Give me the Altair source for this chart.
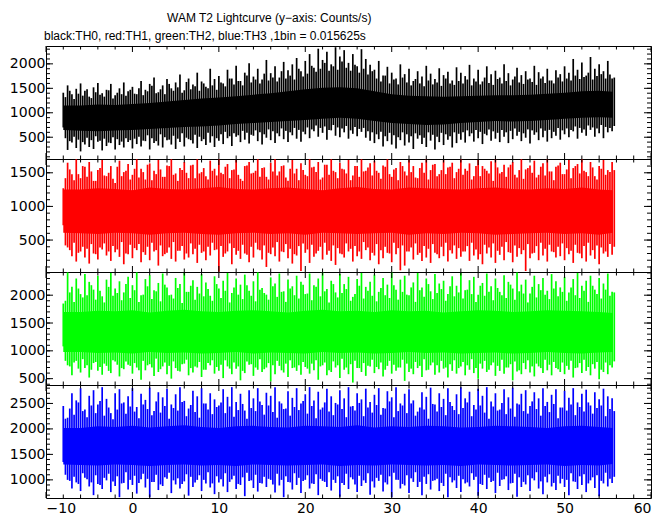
import altair as alt
import pandas as pd

TITLE = "WAM T2 Lightcurve (y−axis: Counts/s)"
SUBTITLE = "black:TH0, red:TH1, green:TH2, blue:TH3 ,1bin = 0.015625s"

X_DOMAIN = [-10, 60]
X_MAJOR = [-10, 0, 10, 20, 30, 40, 50, 60]
X_MINOR = [v for v in range(-10, 61, 2) if v % 10 != 0]

# sample times (s): set A at -8, -7.5, ...; set B at -7.75, -7.25, ...
T_A = [-8 + 0.5 * i for i in range(128)]
T_B = [-7.75 + 0.5 * i for i in range(128)]
CORE_T = [-8, -6, -4, -2, 0, 2, 4, 6, 8, 10, 12, 14, 16, 18, 20, 22, 24, 26,
          28, 30, 32, 34, 36, 38, 40, 42, 44, 46, 48, 50, 52, 54, 55.6]

# ---------------- TH0 (black) ----------------
th0_hi = [1410, 1560, 1380, 1490, 1600, 1450, 1330, 1520, 1610, 1400, 1470, 1590, 1360, 1500, 1620, 1440,
          1530, 1380, 1650, 1470, 1590, 1720, 1420, 1560, 1690, 1500, 1620, 1780, 1460, 1700, 1580, 1820, 1640, 1530, 1900, 1690,
          1750, 1600, 1880, 1700, 1960, 1650, 1820, 2010, 1740, 1900, 1680, 2080, 1810, 1950, 1720, 2040, 1870, 1990, 2120, 1850,
          2060, 2200, 1920, 2310, 2080, 2250, 1990, 2340, 2150, 2280, 2020, 2200, 1950, 2300, 2100, 1980,
          1880, 2060, 1760, 1940, 1820, 1700, 1990, 1790, 1900, 1650, 1850, 1740, 1960, 1800, 1690, 1910, 1770, 1840, 1660, 1930,
          1820, 1750, 1980, 1700, 1880, 1640, 1950, 1790, 1860, 1720, 1990, 1810, 1680, 1920, 1770, 1850, 1700, 1960, 1830, 1740, 1900, 1660, 1870, 1790,
          1950, 1820, 2100, 1880, 2030, 1760, 2140, 1900, 1990, 1850, 2060, 1700]
th0_lo = [700, 240, 390, 280, 210, 350, 300, 260, 410, 230, 320, 380, 250, 340, 290, 400,
          270, 360, 310, 420, 250, 380, 330, 290, 440, 350, 260, 400, 310, 460, 370, 280, 420, 340, 390, 300,
          430, 360, 480, 320, 510, 400, 450, 370, 530, 420, 350, 490, 440, 380, 520, 460, 400, 540, 470, 410,
          560, 480, 620, 510, 590, 450, 640, 530, 500, 600, 470, 570, 520, 610, 490, 430,
          380, 460, 310, 420, 350, 270, 440, 330, 390, 260, 470, 360, 300, 430, 250, 400, 340, 450, 290, 380,
          450, 390, 520, 410, 480, 360, 540, 430, 470, 400, 510, 380, 460, 530, 420, 490, 370, 550, 440, 500, 410, 480, 530, 450,
          560, 500, 620, 470, 590, 530, 650, 510, 580, 480, 600, 620]
th0_hi_b = [1320, 1450, 1280, 1390, 1350, 1480, 1300, 1420, 1370, 1330, 1460, 1290, 1410, 1380, 1350, 1470,
            1390, 1500, 1360, 1440, 1550, 1400, 1480, 1380, 1590, 1450, 1520, 1410, 1630, 1480, 1540, 1450, 1600, 1500, 1560, 1470,
            1620, 1540, 1700, 1580, 1650, 1560, 1760, 1620, 1680, 1600, 1800, 1660, 1720, 1640, 1850, 1700, 1760, 1680, 1900, 1740,
            1800, 1960, 1840, 1900, 2020, 1860, 1950, 1880, 2050, 1920, 1860, 1980, 1820, 1900, 1780, 1850,
            1700, 1640, 1760, 1600, 1680, 1580, 1720, 1620, 1560, 1690, 1600, 1540, 1660, 1580, 1620, 1550, 1700, 1600, 1570, 1650,
            1600, 1680, 1560, 1640, 1580, 1720, 1610, 1570, 1690, 1600, 1650, 1560, 1740, 1620, 1590, 1680, 1630, 1570, 1700, 1610, 1660, 1600, 1720, 1640,
            1700, 1660, 1760, 1690, 1730, 1820, 1680, 1750, 1790, 1700, 1780, 1720]
th0_lo_b = [480, 420, 510, 450, 400, 490, 440, 520, 430, 470, 390, 500, 460, 410, 480, 440,
            470, 510, 430, 540, 480, 420, 560, 500, 450, 530, 470, 580, 490, 440, 550, 510, 460, 590, 520, 480,
            560, 610, 520, 580, 540, 630, 590, 550, 640, 600, 560, 660, 620, 580, 680, 630, 600, 690, 650, 610,
            700, 660, 740, 690, 720, 650, 750, 700, 680, 730, 640, 710, 670, 690, 620, 600,
            560, 610, 520, 590, 540, 500, 600, 560, 520, 580, 540, 490, 600, 550, 510, 590, 560, 520, 600, 570,
            600, 640, 580, 650, 610, 570, 660, 620, 590, 650, 600, 630, 680, 610, 580, 660, 640, 600, 680, 630, 650, 610, 690, 640,
            680, 650, 720, 690, 660, 740, 700, 680, 750, 710, 690, 730]
th0_core_hi = [1150, 1150, 1170, 1160, 1180, 1200, 1230, 1260, 1290, 1310, 1340, 1370, 1400, 1440, 1480, 1510, 1520,
               1500, 1440, 1380, 1350, 1340, 1330, 1340, 1350, 1360, 1360, 1370, 1390, 1410, 1440, 1450, 1430]
th0_core_lo = [650, 630, 620, 640, 650, 670, 690, 710, 720, 740, 770, 790, 810, 830, 850, 880, 900,
               880, 830, 790, 770, 750, 760, 790, 810, 830, 820, 830, 850, 880, 900, 910, 900]

# ---------------- TH1 (red) ----------------
th1_hi = [1270, 1650, 1480, 1700, 1420, 1590, 1660, 1380, 1540, 1690, 1450, 1600, 1350, 1680, 1510, 1630,
          1470, 1700, 1560, 1400, 1640, 1530, 1690, 1440, 1610, 1700, 1490, 1570, 1660, 1420, 1620, 1700, 1510, 1450, 1680, 1560,
          1700, 1480, 1630, 1540, 1690, 1410, 1600, 1660, 1500, 1700, 1570, 1440, 1650, 1700, 1520, 1610, 1380, 1690, 1560, 1640,
          1470, 1700, 1590, 1660, 1430, 1620, 1700, 1510, 1650, 1550, 1690, 1460, 1600, 1700, 1530, 1640,
          1680, 1500, 1610, 1700, 1440, 1570, 1660, 1520, 1690, 1600, 1420, 1650, 1700, 1540, 1630, 1480, 1690, 1580, 1650, 1510,
          1700, 1560, 1640, 1450, 1690, 1600, 1530, 1670, 1700, 1490, 1620, 1580, 1660, 1430, 1700, 1550, 1610, 1680, 1470, 1640, 1700, 1520, 1590, 1650,
          1480, 1690, 1570, 1630, 1700, 1510, 1660, 1450, 1600, 1690, 1540, 1660]
th1_lo = [720, 390, 260, 180, 330, 240, 150, 300, 210, 360, 270, 190, 320, 250, 140, 290,
          230, 350, 170, 280, 200, 330, 120, 260, 310, 220, 180, 340, 210, 240, 290, 160, 310, 200, 270, 350,
          30, 250, 330, 140, 280, 220, 300, 170, 240, 360, 210, 100, 290, 260, 180, 320, 230, 150, 270, 40,
          310, 160, 250, 340, 210, 280, 190, 130, 300, 240, 330, 180, 260, 220, 350, 200,
          270, 140, 230, 310, 170, 290, 50, 120, 330, 210, 280, 190, 240, 160, 310, 230, 260, 180, 300, 220,
          250, 330, 190, 270, 210, 140, 300, 240, 160, 280, 200, 320, 170, 250, 290, 40, 230, 310, 200, 270, 180, 330, 240, 260,
          200, 290, 160, 310, 230, 180, 270, 220, 140, 300, 250, 280]
th1_hi_b = [1420, 1550, 1390, 1480, 1600, 1440, 1520, 1380, 1570, 1460, 1500, 1410, 1590, 1450, 1530, 1400,
            1560, 1430, 1510, 1620, 1390, 1480, 1550, 1440, 1600, 1470, 1380, 1540, 1500, 1610, 1420, 1490, 1570, 1400, 1530, 1460,
            1500, 1590, 1420, 1550, 1470, 1380, 1610, 1490, 1530, 1440, 1580, 1400, 1520, 1460, 1600, 1430, 1560, 1490, 1390, 1540,
            1450, 1580, 1510, 1400, 1620, 1470, 1530, 1420, 1560, 1490, 1390, 1600, 1440, 1520, 1580, 1460,
            1530, 1410, 1590, 1480, 1550, 1390, 1600, 1460, 1510, 1430, 1570, 1500, 1400, 1620, 1450, 1540, 1480, 1590, 1420, 1560,
            1470, 1530, 1400, 1600, 1450, 1560, 1490, 1380, 1580, 1510, 1440, 1620, 1470, 1540, 1410, 1570, 1500, 1430, 1590, 1460, 1520, 1390, 1610, 1480,
            1550, 1420, 1600, 1490, 1530, 1450, 1580, 1400, 1560, 1470, 1510, 1540]
th1_lo_b = [420, 350, 460, 310, 400, 370, 440, 290, 390, 450, 330, 410, 360, 470, 300, 430,
            380, 440, 320, 400, 460, 350, 420, 290, 390, 470, 340, 410, 300, 450, 370, 430, 330, 400, 460, 360,
            410, 300, 450, 380, 340, 430, 280, 400, 460, 350, 420, 310, 390, 470, 330, 440, 370, 290, 410, 450,
            360, 430, 300, 400, 460, 340, 420, 380, 290, 450, 370, 410, 330, 470, 390, 310,
            440, 350, 400, 300, 460, 380, 420, 330, 390, 450, 310, 410, 370, 440, 290, 400, 460, 350, 420, 380,
            330, 410, 460, 360, 290, 430, 390, 450, 340, 400, 470, 310, 420, 380, 350, 440, 300, 410, 460, 370, 430, 320, 400, 450,
            380, 340, 430, 300, 410, 460, 350, 420, 390, 330, 440, 400]
th1_core_hi = [1250, 1250, 1270, 1260, 1240, 1280, 1260, 1250, 1270, 1290, 1260, 1250, 1270, 1280, 1260, 1240, 1270,
               1290, 1260, 1250, 1280, 1270, 1260, 1250, 1270, 1280, 1260, 1250, 1270, 1260, 1280, 1250, 1240]
th1_core_lo = [610, 600, 590, 610, 600, 580, 600, 610, 590, 580, 600, 610, 590, 600, 580, 610, 600,
               590, 600, 610, 580, 600, 590, 610, 600, 580, 590, 600, 610, 590, 600, 580, 610]

# ---------------- TH2 (green) ----------------
th2_hi = [1850, 2410, 2150, 2300, 2020, 2380, 2240, 2100, 2350, 1980, 2280, 2400, 2120, 2250, 2050, 2330,
          2180, 2410, 2000, 2290, 2360, 2090, 2220, 2390, 2140, 2010, 2310, 2200, 2400, 2060, 2270, 2150, 2380, 2230, 1990, 2340,
          2120, 2260, 2400, 2040, 2300, 2190, 2370, 2080, 2250, 2410, 2130, 2010, 2320, 2210, 2390, 2070, 2280, 2160, 2350, 2240,
          2020, 2390, 2180, 2300, 2410, 2110, 2260, 2050, 2380, 2200, 2330, 1970, 2290, 2400, 2150, 2240,
          2370, 2060, 2310, 2190, 2410, 2100, 2280, 2350, 2000, 2230, 2400, 2140, 2300, 2070, 2380, 2210, 2260, 2020, 2340, 2170,
          2400, 2090, 2270, 2330, 2010, 2220, 2390, 2160, 2300, 2060, 2360, 2240, 2120, 2410, 2190, 2280, 2030, 2350, 2200, 2310, 2080, 2380, 2250, 2140,
          2330, 2050, 2290, 2400, 2170, 2260, 2350, 2100, 2310, 2210, 2390, 2060]
th2_lo = [1080, 740, 560, 820, 610, 690, 520, 780, 640, 570, 730, 600, 810, 540, 670, 750,
          590, 700, 480, 650, 760, 550, 620, 720, 580, 500, 690, 630, 770, 560, 610, 700, 530, 660, 740, 590,
          640, 510, 720, 580, 680, 470, 600, 750, 550, 660, 620, 700, 450, 580, 730, 610, 530, 690, 640, 570,
          710, 590, 650, 480, 740, 560, 620, 700, 510, 660, 580, 430, 690, 620, 550, 720,
          600, 670, 540, 730, 590, 640, 700, 460, 620, 580, 690, 530, 650, 740, 570, 610, 680, 520, 640, 590,
          720, 560, 660, 600, 500, 680, 620, 740, 550, 640, 590, 700, 470, 630, 580, 670, 610, 540, 720, 600, 650, 560, 690, 620,
          580, 660, 520, 700, 600, 640, 560, 680, 490, 620, 580, 700]
th2_hi_b = [1900, 2050, 1880, 2120, 1960, 2000, 2180, 1920, 2080, 1870, 2150, 1990, 2040, 1910, 2200, 1950,
            2090, 1880, 2010, 2160, 1930, 2070, 1890, 2190, 2000, 1940, 2130, 1860, 2060, 2170, 1920, 2030, 1980, 2110, 1900, 2200,
            1950, 2080, 1870, 2140, 2010, 1930, 2180, 1990, 1890, 2100, 2040, 1920, 2160, 1970, 2060, 1880, 2120, 2000, 1940, 2190,
            2030, 1910, 2150, 1980, 2070, 1870, 2200, 1960, 2040, 2110, 1900, 2020, 2170, 1940, 2080, 1990,
            1890, 2130, 2000, 1950, 2180, 1920, 2060, 2010, 2140, 1880, 2090, 1970, 2200, 1930, 2040, 2110, 1900, 2160, 1980, 2050,
            1940, 2100, 2020, 1880, 2170, 1990, 2060, 1910, 2130, 2000, 1950, 2190, 1920, 2070, 2030, 1870, 2150, 1960, 2090, 2010, 1930, 2120, 1980, 2060,
            1900, 2140, 2000, 1950, 2080, 1880, 2170, 2020, 1940, 2100, 1990, 2050]
th2_lo_b = [820, 720, 790, 680, 850, 740, 660, 800, 710, 770, 640, 830, 750, 690, 810, 730,
            780, 650, 820, 740, 700, 860, 670, 790, 730, 810, 640, 760, 840, 690, 720, 800, 660, 780, 830, 710,
            750, 830, 680, 790, 720, 640, 810, 760, 700, 850, 670, 780, 740, 820, 650, 770, 830, 700, 740, 800,
            680, 770, 830, 720, 790, 650, 810, 740, 860, 700, 760, 820, 690, 780, 730, 840,
            710, 790, 660, 820, 750, 700, 840, 770, 680, 800, 730, 850, 660, 790, 740, 820, 700, 760, 830, 690,
            800, 740, 850, 690, 770, 820, 660, 790, 730, 840, 700, 760, 810, 650, 780, 830, 720, 770, 690, 840, 750, 800, 670, 790,
            730, 820, 690, 780, 840, 710, 760, 800, 660, 790, 740, 810]
th2_core_hi = [1700, 1700, 1720, 1710, 1730, 1690, 1720, 1740, 1710, 1700, 1720, 1730, 1710, 1690, 1720, 1740, 1710,
               1720, 1700, 1730, 1710, 1720, 1690, 1710, 1730, 1720, 1700, 1710, 1730, 1720, 1710, 1700, 1680]
th2_core_lo = [980, 980, 960, 970, 950, 980, 960, 970, 950, 960, 980, 950, 970, 960, 950, 980, 960,
               970, 950, 960, 980, 960, 970, 950, 960, 970, 950, 960, 980, 960, 950, 970, 980]

# ---------------- TH3 (blue) ----------------
th3_hi = [2450, 2220, 2700, 2560, 2800, 2380, 2650, 2760, 2480, 2820, 2590, 2310, 2700, 2780, 2520, 2640,
          2800, 2430, 2690, 2570, 2810, 2350, 2720, 2620, 2790, 2480, 2680, 2820, 2550, 2400, 2750, 2640, 2800, 2500, 2700, 2580,
          2460, 2780, 2630, 2820, 2530, 2690, 2360, 2760, 2600, 2800, 2470, 2710, 2650, 2820, 2540, 2390, 2740, 2610, 2800, 2500,
          2680, 2820, 2560, 2730, 2420, 2790, 2640, 2510, 2760, 2600, 2820, 2450, 2700, 2580, 2790, 2530,
          2670, 2800, 2410, 2740, 2620, 2820, 2500, 2690, 2780, 2560, 2340, 2720, 2630, 2810, 2480, 2700, 2590, 2800, 2450, 2680,
          2820, 2600, 2730, 2470, 2790, 2650, 2820, 2540, 2700, 2380, 2780, 2620, 2810, 2500, 2690, 2760, 2450, 2720, 2600, 2800, 2530, 2670, 2780, 2420,
          2750, 2610, 2800, 2520, 2690, 2770, 2460, 2720, 2580, 2790, 2640, 2600]
th3_lo = [1350, 1000, 830, 950, 780, 1040, 870, 700, 920, 820, 990, 760, 880, 660, 940, 810,
          900, 730, 1010, 850, 660, 960, 800, 880, 1020, 740, 910, 830, 970, 690, 860, 1000, 780, 930, 850, 720,
          950, 870, 760, 1010, 820, 900, 680, 980, 840, 770, 930, 860, 1000, 750, 890, 660, 960, 810, 900, 740,
          1000, 830, 920, 700, 980, 860, 790, 940, 670, 900, 820, 1010, 760, 880, 940, 710,
          850, 980, 770, 910, 660, 1000, 830, 890, 740, 960, 860, 700, 920, 810, 990, 780, 880, 660, 950, 840,
          760, 930, 870, 1000, 690, 900, 820, 960, 740, 880, 1010, 800, 940, 670, 860, 910, 780, 990, 830, 720, 950, 870, 800, 930,
          860, 700, 970, 820, 900, 760, 990, 840, 680, 930, 870, 940]
th3_hi_b = [2200, 2400, 2280, 2520, 2350, 2230, 2460, 2310, 2550, 2260, 2420, 2190, 2380, 2500, 2300, 2440,
            2340, 2210, 2480, 2390, 2270, 2540, 2320, 2450, 2200, 2410, 2360, 2530, 2250, 2470, 2330, 2220, 2500, 2380, 2290, 2430,
            2520, 2310, 2440, 2240, 2370, 2490, 2200, 2410, 2350, 2540, 2280, 2460, 2330, 2220, 2500, 2400, 2260, 2430, 2370, 2550,
            2300, 2450, 2210, 2380, 2520, 2340, 2270, 2480, 2390, 2230, 2440, 2360, 2510, 2250, 2420, 2320,
            2470, 2280, 2400, 2540, 2230, 2350, 2460, 2310, 2500, 2260, 2420, 2380, 2200, 2490, 2340, 2430, 2270, 2530, 2370, 2290,
            2410, 2520, 2250, 2380, 2460, 2320, 2200, 2440, 2360, 2510, 2290, 2400, 2240, 2480, 2350, 2300, 2540, 2390, 2260, 2450, 2330, 2490, 2210, 2420,
            2360, 2480, 2270, 2430, 2340, 2520, 2300, 2410, 2460, 2250, 2390, 2350]
th3_lo_b = [1100, 980, 1060, 920, 1130, 1010, 950, 1090, 900, 1040, 1120, 970, 1070, 930, 1150, 1000,
            1080, 940, 1120, 1020, 960, 1100, 910, 1050, 1140, 990, 1030, 920, 1110, 1060, 950, 1090, 1000, 1150, 930, 1070,
            1010, 1130, 960, 1080, 920, 1050, 1140, 990, 1100, 940, 1060, 1020, 910, 1120, 1000, 1070, 950, 1130, 1040, 980,
            1090, 930, 1110, 1020, 960, 1150, 1000, 1070, 940, 1120, 1050, 910, 1080, 990, 1130, 970,
            1040, 1100, 950, 1070, 1140, 1000, 920, 1090, 1030, 1150, 960, 1060, 1110, 980, 1020, 940, 1120, 1050, 990, 1080,
            1010, 950, 1130, 1060, 920, 1100, 1040, 980, 1140, 1000, 1070, 930, 1120, 1050, 960, 1090, 1030, 1150, 970, 1060, 1110, 940, 1080, 1020,
            1000, 1130, 960, 1070, 1110, 930, 1050, 1090, 980, 1140, 1020, 1060]
th3_core_hi = [2020, 2020, 2050, 2040, 2060, 2030, 2050, 2070, 2040, 2020, 2050, 2060, 2040, 2030, 2060, 2050, 2040,
               2070, 2030, 2050, 2040, 2060, 2050, 2030, 2040, 2060, 2050, 2040, 2020, 2050, 2060, 2040, 2020]
th3_core_lo = [1300, 1290, 1280, 1300, 1290, 1270, 1290, 1300, 1280, 1290, 1270, 1300, 1290, 1280, 1290, 1300, 1270,
               1290, 1280, 1300, 1290, 1280, 1290, 1270, 1300, 1290, 1280, 1290, 1300, 1270, 1290, 1280, 1310]

PANELS = [
    dict(color="#000000", domain=[55, 2365], major=[500, 1000, 1500, 2000],
         hi=th0_hi, lo=th0_lo, hi_b=th0_hi_b, lo_b=th0_lo_b, core_hi=th0_core_hi, core_lo=th0_core_lo),
    dict(color="#ff0000", domain=[25, 1705], major=[500, 1000, 1500],
         hi=th1_hi, lo=th1_lo, hi_b=th1_hi_b, lo_b=th1_lo_b, core_hi=th1_core_hi, core_lo=th1_core_lo),
    dict(color="#00ff00", domain=[386, 2417], major=[500, 1000, 1500, 2000],
         hi=th2_hi, lo=th2_lo, hi_b=th2_hi_b, lo_b=th2_lo_b, core_hi=th2_core_hi, core_lo=th2_core_lo),
    dict(color="#0000ff", domain=[644, 2862], major=[1000, 1500, 2000, 2500],
         hi=th3_hi, lo=th3_lo, hi_b=th3_hi_b, lo_b=th3_lo_b, core_hi=th3_core_hi, core_lo=th3_core_lo),
]

W, H = 605, 113
FONT = "DejaVu Sans"


def make_panel(p, show_x, show_title):
    xs = alt.Scale(domain=X_DOMAIN, nice=False, zero=False)
    ys = alt.Scale(domain=p["domain"], nice=False, zero=False)
    lo_d, hi_d = p["domain"]
    y_minor = [v for v in range(0, 3000, 100) if lo_d <= v <= hi_d]

    spikes = pd.DataFrame({"t": T_A + T_B, "hi": p["hi"] + p["hi_b"], "lo": p["lo"] + p["lo_b"]})
    core = pd.DataFrame({"t": CORE_T, "hi": p["core_hi"], "lo": p["core_lo"]})

    if show_x:
        xaxis = alt.Axis(values=X_MAJOR, format="d", ticks=False, tickSize=0, domain=False, grid=False,
                         labelFont=FONT, labelFontSize=14, labelPadding=3, labelColor="black",
                         title=None)
    else:
        xaxis = None
    yaxis = alt.Axis(values=p["major"], format="d", ticks=False, tickSize=0, domain=False, grid=False,
                     labelFont=FONT, labelFontSize=14, labelPadding=1, labelColor="black",
                     title=None, minExtent=37, maxExtent=37)

    def X(field):
        return alt.X(field, scale=xs, axis=xaxis)

    def Y(field):
        return alt.Y(field, scale=ys, axis=yaxis)

    core_layer = alt.Chart(core).mark_area(color=p["color"], opacity=1, clip=True,
                                           interpolate="linear").encode(
        x=X("t:Q"), y=Y("lo:Q"), y2="hi:Q")
    spike_layer = alt.Chart(spikes).mark_rule(color=p["color"], strokeWidth=1.7, clip=True).encode(
        x=X("t:Q"), y=Y("lo:Q"), y2="hi:Q")

    layers = [core_layer, spike_layer]

    def xticks(vals, L):
        df = pd.DataFrame({"v": vals})
        base = alt.Chart(df).mark_rule(color="black", strokeWidth=1)
        return [
            base.encode(x=X("v:Q"), y=alt.value(0), y2=alt.value(L)),
            base.encode(x=X("v:Q"), y=alt.value(H), y2=alt.value(H - L)),
        ]

    def yticks(vals, L):
        df = pd.DataFrame({"v": vals})
        base = alt.Chart(df).mark_rule(color="black", strokeWidth=1)
        return [
            base.encode(y=Y("v:Q"), x=alt.value(0), x2=alt.value(L)),
            base.encode(y=Y("v:Q"), x=alt.value(W), x2=alt.value(W - L)),
        ]

    layers += xticks(X_MINOR, 3.5) + xticks(X_MAJOR, 6)
    layers += yticks(y_minor, 4) + yticks(p["major"], 7)

    if show_title:
        tdf = pd.DataFrame({"label": [TITLE]})
        sdf = pd.DataFrame({"label": [SUBTITLE]})
        layers.append(alt.Chart(tdf).mark_text(align="left", baseline="alphabetic",
                                               font="Liberation Sans", fontSize=12, color="black").encode(
            text="label:N", x=alt.value(121), y=alt.value(-24.5)))
        layers.append(alt.Chart(sdf).mark_text(align="left", baseline="alphabetic",
                                               font="Liberation Sans", fontSize=12, color="black").encode(
            text="label:N", x=alt.value(-2), y=alt.value(-6.5)))

    return alt.layer(*layers).properties(width=W, height=H)


charts = [make_panel(p, i == 3, i == 0) for i, p in enumerate(PANELS)]

chart = alt.vconcat(*charts, spacing=0, bounds="flush").properties(
    padding={"left": 0, "top": 3, "right": 5, "bottom": 0}
).configure_view(stroke="black", strokeWidth=1).configure_axis(grid=False)

chart.save("out.html", embed_options={"renderer": "svg", "actions": False})
